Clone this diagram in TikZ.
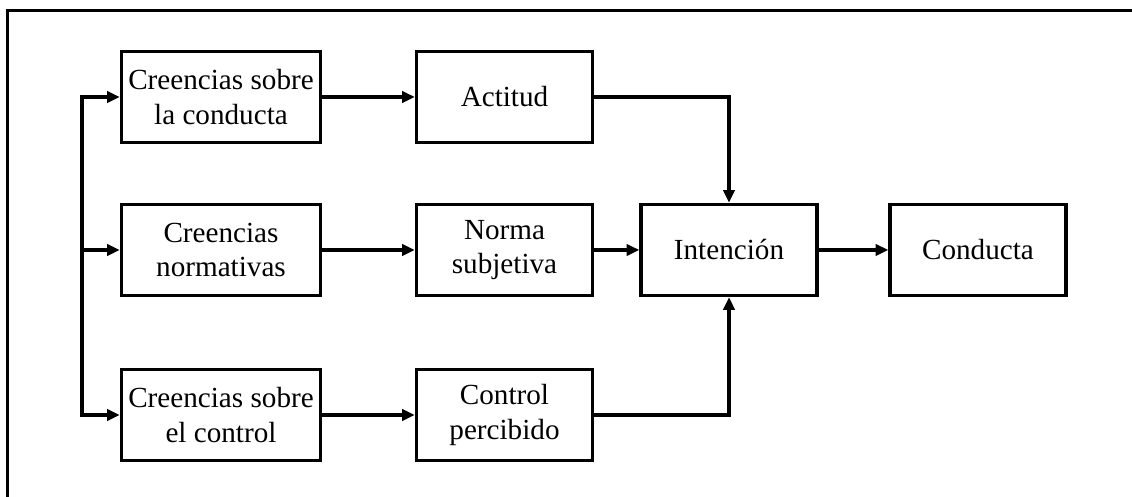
\documentclass[tikz,border=0pt]{standalone}
\usepackage{fontspec}
\setmainfont{Liberation Serif}
\usepackage{tikz}
\usetikzlibrary{arrows.meta,positioning,calc}
\tikzset{every picture/.style={font issue=\fontsize{16.6}{19.6}},
         font issue/.style={execute at begin picture={#1\selectfont}},
         wide box/.style={draw, line width=1.9pt, align=center, inner sep=1pt,
                          minimum width=3.98cm, minimum height=1.82cm},
         narrow box/.style={wide box, minimum width=3.52cm},
         link/.style={line width=2.1pt, ->}
        }

\begin{document}
\begin{tikzpicture}[>={Triangle[length=7.2pt,width=6.4pt]}]
\useasboundingbox (0,0) rectangle (22.64,9.94);
%Frame
\draw[line width=1.8pt] (0.12,9.73) -- (22.64,9.73);
\draw[line width=1.2pt] (0.15,9.75) -- (0.15,0);

%Beliefs
\node[wide box] (cc) at (4.42,8.0) {Creencias sobre\\la conducta};
\node[wide box] (cn) at (4.42,4.94) {Creencias\\normativas};
\node[wide box] (cb) at (4.42,1.64) {Creencias sobre\\el control};

%Second column
\node[narrow box] (actitud) at (10.09,8.0) {Actitud};
\node[narrow box] (norma) at (10.09,4.94) {Norma\\subjetiva};
\node[narrow box] (control) at (10.09,1.64) {Control\\percibido};

\node[narrow box] (intencion) at (14.58,4.94) {Intención};
\node[narrow box] (conducta) at (19.56,4.94) {Conducta};

\coordinate (bus) at (1.64,4.94);
\draw[link, <->] (cc.west) -| (bus) |- (cb.west);
\draw[link] (bus) -- (cn.west);

\draw[link] (cc) -- (actitud);
\draw[link] (cn) -- (norma);
\draw[link] (cb) -- (control);

\draw[link] (actitud.east) -| (intencion.north);
\draw[link] (norma) -- (intencion);
\draw[link] (control.east) -| (intencion.south);
\draw[link] (intencion) -- (conducta);
\end{tikzpicture}
\end{document}
